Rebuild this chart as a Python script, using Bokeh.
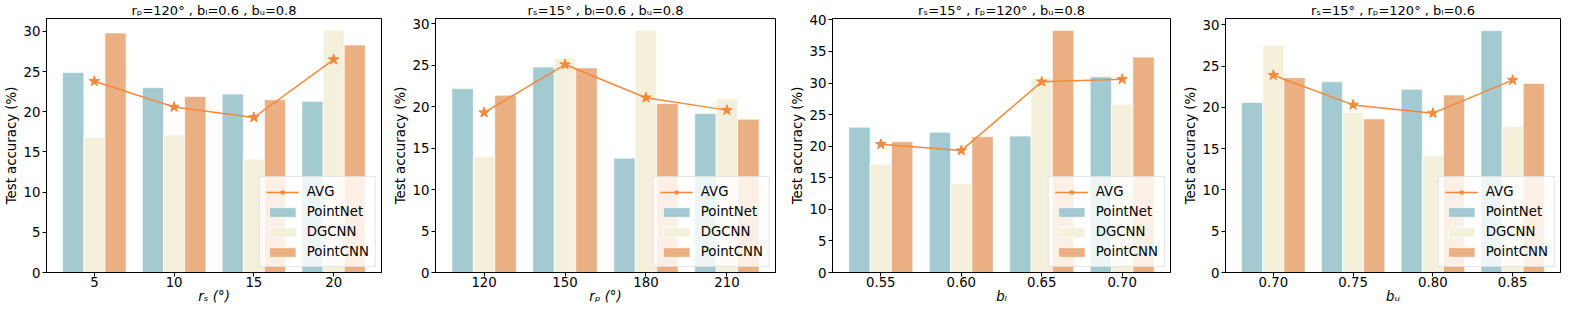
from bokeh.plotting import figure
from bokeh.layouts import row
from bokeh.models import FixedTicker, SingleIntervalTicker, Legend, LegendItem, Range1d
from bokeh.embed import file_html
from bokeh.resources import INLINE

# ---------------- data ----------------
positions = [0, 1, 2, 3]
series_names = ["PointNet", "DGCNN", "PointCNN"]

p1_title = "rₚ=120° , bₗ=0.6 , bᵤ=0.8"
p1_xlabel = "rₛ (°)"
p1_ticks = ["5", "10", "15", "20"]
p1_pointnet = [24.9, 23.0, 22.2, 21.3]
p1_dgcnn = [16.8, 17.1, 14.1, 30.1]
p1_pointcnn = [29.8, 21.9, 21.5, 28.3]
p1_avg = [23.8, 20.6, 19.3, 26.5]

p2_title = "rₛ=15° , bₗ=0.6 , bᵤ=0.8"
p2_xlabel = "rₚ (°)"
p2_ticks = ["120", "150", "180", "210"]
p2_pointnet = [22.2, 24.8, 13.8, 19.2]
p2_dgcnn = [14.0, 25.9, 29.2, 21.0]
p2_pointcnn = [21.4, 24.7, 20.4, 18.5]
p2_avg = [19.3, 25.1, 21.1, 19.6]

p3_title = "rₛ=15° , rₚ=120° , bᵤ=0.8"
p3_xlabel = "bₗ"
p3_ticks = ["0.55", "0.60", "0.65", "0.70"]
p3_pointnet = [23.0, 22.2, 21.6, 31.0]
p3_dgcnn = [17.1, 14.1, 30.7, 26.6]
p3_pointcnn = [20.7, 21.5, 38.3, 34.1]
p3_avg = [20.3, 19.3, 30.2, 30.6]

p4_title = "rₛ=15° , rₚ=120° , bₗ=0.6"
p4_xlabel = "bᵤ"
p4_ticks = ["0.70", "0.75", "0.80", "0.85"]
p4_pointnet = [20.6, 23.1, 22.2, 29.3]
p4_dgcnn = [27.5, 19.4, 14.1, 17.7]
p4_pointcnn = [23.6, 18.6, 21.5, 22.9]
p4_avg = [23.9, 20.3, 19.3, 23.3]

# ---------------- style ----------------
FONT = "DejaVu Sans"
FS = "13.3px"
C_PN = "#A3CAD0"
C_DG = "#F5F0DC"
C_PC = "#EAB084"
C_AVG = "#F5883B"
BAR_W = 0.265

H = 306
LEFT = 42


def make_panel(title, xlabel, ticks, pn, dg, pc, avg, width, right_border):
    ymax = max(pn + dg + pc) * 1.05
    p = figure(width=width, height=H, output_backend="svg", toolbar_location=None,
               x_range=Range1d(-0.6, 3.6), y_range=Range1d(0, ymax),
               min_border_left=LEFT, min_border_right=right_border,
               min_border_top=0, min_border_bottom=0)
    p.title.text = title
    p.title.align = "center"
    p.title.text_font = FONT
    p.title.text_font_size = "13px"
    p.title.text_font_style = "normal"
    p.title.text_color = "black"
    p.title.standoff = 1
    p.title.offset = 0

    p.xgrid.visible = False
    p.ygrid.visible = False
    p.outline_line_color = "black"
    p.outline_line_width = 1
    p.outline_line_alpha = 1
    p.background_fill_color = "white"
    p.border_fill_color = "white"

    offs = [-BAR_W, 0, BAR_W]
    rs = []
    for vals, col, off in zip([pn, dg, pc], [C_PN, C_DG, C_PC], offs):
        xs = [x + off for x in positions]
        r = p.vbar(x=xs, top=vals, width=BAR_W, bottom=0, fill_color=col,
                   line_color="white", line_width=0.8, line_alpha=0.8)
        rs.append(r)
    lr = p.line(positions, avg, line_color=C_AVG, line_width=1.5)
    sr = p.scatter(positions, avg, marker="star", size=11, fill_color=C_AVG,
                   line_color=C_AVG)

    # axes
    p.xaxis.ticker = FixedTicker(ticks=positions)
    p.xaxis.major_label_overrides = {pos: t for pos, t in zip(positions, ticks)}
    p.yaxis.ticker = SingleIntervalTicker(interval=5)
    for ax in (p.xaxis[0], p.yaxis[0]):
        ax.axis_line_color = "black"
        ax.axis_line_width = 1
        ax.major_tick_line_color = "black"
        ax.major_tick_out = 4
        ax.major_tick_in = 0
        ax.minor_tick_out = 0
        ax.minor_tick_in = 0
        ax.major_label_text_font = FONT
        ax.major_label_text_font_size = FS
        ax.major_label_text_color = "black"
        ax.major_label_standoff = 2
        ax.axis_label_text_font = FONT
        ax.axis_label_text_font_size = FS
        ax.axis_label_text_color = "black"
        ax.axis_label_standoff = 2
    p.xaxis.major_label_standoff = 0
    p.xaxis.axis_label_standoff = -1
    p.xaxis.axis_label = xlabel
    p.xaxis.axis_label_text_font_style = "italic"
    p.yaxis.axis_label = "Test accuracy (%)"
    p.yaxis.axis_label_text_font_style = "normal"

    items = [LegendItem(label="AVG", renderers=[lr, sr])]
    for name, r in zip(series_names, rs):
        items.append(LegendItem(label=name, renderers=[r]))
    leg = Legend(items=items, location="bottom_right")
    leg.margin = 5
    leg.padding = 6
    leg.spacing = 3
    leg.glyph_width = 33
    leg.glyph_height = 12
    leg.label_height = 17
    leg.label_standoff = 8
    leg.label_text_font = FONT
    leg.label_text_font_size = FS
    leg.label_text_color = "black"
    leg.background_fill_color = "white"
    leg.background_fill_alpha = 0.8
    leg.border_line_color = "#CCCCCC"
    leg.border_line_width = 1
    p.add_layout(leg, "center")
    return p


f1 = make_panel(p1_title, p1_xlabel, p1_ticks, p1_pointnet, p1_dgcnn, p1_pointcnn, p1_avg, 389, 8)
f2 = make_panel(p2_title, p2_xlabel, p2_ticks, p2_pointnet, p2_dgcnn, p2_pointcnn, p2_avg, 397, 11)
f3 = make_panel(p3_title, p3_xlabel, p3_ticks, p3_pointnet, p3_dgcnn, p3_pointcnn, p3_avg, 393, 9)
f4 = make_panel(p4_title, p4_xlabel, p4_ticks, p4_pointnet, p4_dgcnn, p4_pointcnn, p4_avg, 382, 1)

layout = row(f1, f2, f3, f4)
open("out.html", "w").write(file_html(layout, INLINE))
